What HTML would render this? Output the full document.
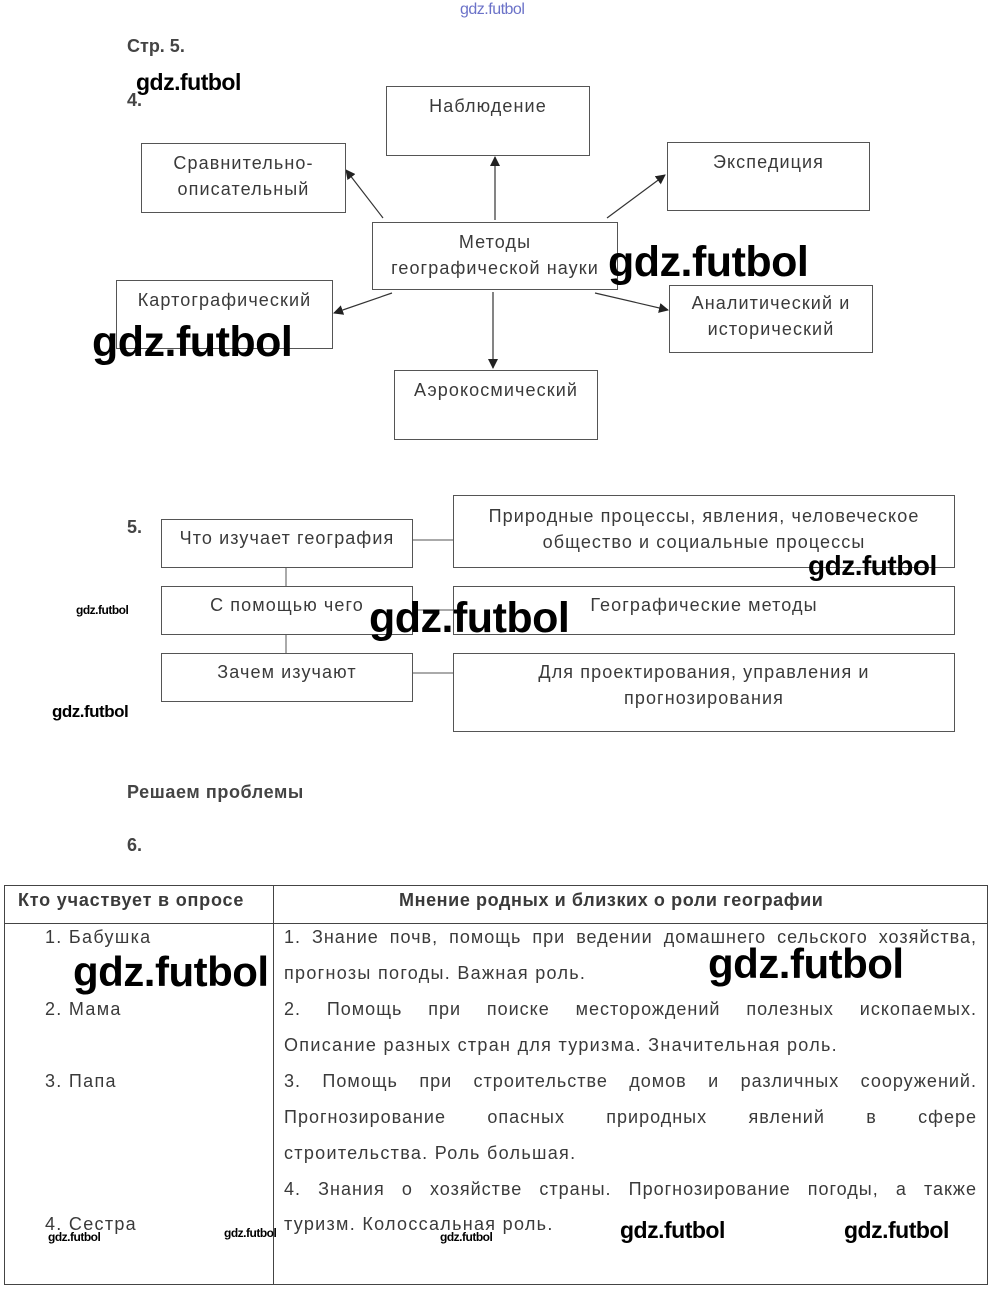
<!DOCTYPE html>
<html><head><meta charset="utf-8"><style>
body{margin:0;width:1000px;height:1296px;background:#fff;position:relative;overflow:hidden;font-family:"Liberation Sans","DejaVu Sans",sans-serif;color:#3a3a3a}
.a{position:absolute;white-space:nowrap}
.b{position:absolute;border:1px solid #555;box-sizing:border-box;text-align:center;font-size:18px;line-height:26px;background:#fff;letter-spacing:1.1px;white-space:nowrap}
.w{position:absolute;color:#000;font-family:"Liberation Sans",sans-serif;white-space:nowrap;font-weight:bold;letter-spacing:-0.5px}
.L{position:absolute;font-size:18px;white-space:nowrap;letter-spacing:1.3px}
.J{position:absolute;left:284px;width:693px;font-size:18px;text-align:justify;text-align-last:justify;white-space:nowrap;letter-spacing:1px}
</style></head><body>
<div class="w" style="left:460px;top:1px;font-size:16px;color:#6b72c8;font-weight:normal">gdz.futbol</div>
<div class="a" style="left:127px;top:36px;font-size:18px;font-weight:bold;color:#444">Стр. 5.</div>
<div class="a" style="left:127px;top:90px;font-size:18px;font-weight:bold;color:#444">4.</div>
<div class="w" style="left:136px;top:69px;font-size:23px">gdz.futbol</div>

<svg style="position:absolute;left:0;top:0" width="1000" height="460">
<defs><marker id="m" markerWidth="10" markerHeight="10" refX="9" refY="5" orient="auto" markerUnits="userSpaceOnUse"><path d="M0,0 L10,5 L0,10 z" fill="#222"/></marker></defs>
<g stroke="#333" stroke-width="1.2">
<line x1="495" y1="220" x2="495" y2="157" marker-end="url(#m)"/>
<line x1="383" y1="218" x2="346" y2="170" marker-end="url(#m)"/>
<line x1="607" y1="218" x2="665" y2="175" marker-end="url(#m)"/>
<line x1="392" y1="293" x2="334" y2="313" marker-end="url(#m)"/>
<line x1="595" y1="293" x2="668" y2="310" marker-end="url(#m)"/>
<line x1="493" y1="292" x2="493" y2="368" marker-end="url(#m)"/>
</g></svg>
<div class="b" style="left:386px;top:86px;width:204px;height:70px;padding-top:6px">Наблюдение</div>
<div class="b" style="left:141px;top:143px;width:205px;height:70px;padding-top:6px">Сравнительно-<br>описательный</div>
<div class="b" style="left:667px;top:142px;width:203px;height:69px;padding-top:6px">Экспедиция</div>
<div class="b" style="left:372px;top:222px;width:246px;height:68px;padding-top:6px">Методы<br>географической науки</div>
<div class="b" style="left:116px;top:280px;width:217px;height:69px;padding-top:6px">Картографический</div>
<div class="b" style="left:669px;top:285px;width:204px;height:68px;padding-top:4px">Аналитический и<br>исторический</div>
<div class="b" style="left:394px;top:370px;width:204px;height:70px;padding-top:6px">Аэрокосмический</div>
<div class="w" style="left:608px;top:238px;font-size:43px">gdz.futbol</div>
<div class="w" style="left:92px;top:318px;font-size:43px">gdz.futbol</div>

<div class="a" style="left:127px;top:517px;font-size:18px;font-weight:bold;color:#444">5.</div>
<svg style="position:absolute;left:0;top:480px" width="1000" height="260">
<g stroke="#555" stroke-width="1"><line x1="286" y1="87" x2="286" y2="106"/><line x1="286" y1="154" x2="286" y2="173"/>
<line x1="412" y1="60" x2="453" y2="60"/><line x1="412" y1="130" x2="453" y2="130"/><line x1="412" y1="193" x2="453" y2="193"/></g></svg>
<div class="b" style="left:161px;top:519px;width:252px;height:49px;padding-top:5px">Что изучает география</div>
<div class="b" style="left:161px;top:586px;width:252px;height:49px;padding-top:5px">С помощью чего</div>
<div class="b" style="left:161px;top:653px;width:252px;height:49px;padding-top:5px">Зачем изучают</div>
<div class="b" style="left:453px;top:495px;width:502px;height:73px;padding-top:7px">Природные процессы, явления, человеческое<br>общество и социальные процессы</div>
<div class="b" style="left:453px;top:586px;width:502px;height:49px;padding-top:5px">Географические методы</div>
<div class="b" style="left:453px;top:653px;width:502px;height:79px;padding-top:5px">Для проектирования, управления и<br>прогнозирования</div>
<div class="w" style="left:808px;top:550px;font-size:28px">gdz.futbol</div>
<div class="w" style="left:369px;top:594px;font-size:43px">gdz.futbol</div>
<div class="w" style="left:76px;top:603px;font-size:12px">gdz.futbol</div>
<div class="w" style="left:52px;top:702px;font-size:17px">gdz.futbol</div>

<div class="a" style="left:127px;top:782px;font-size:18px;font-weight:bold;color:#444;letter-spacing:0.6px">Решаем проблемы</div>
<div class="a" style="left:127px;top:835px;font-size:18px;font-weight:bold;color:#444">6.</div>

<div style="position:absolute;left:4px;top:885px;width:984px;height:400px;border:1px solid #444;box-sizing:border-box"></div>
<div style="position:absolute;left:273px;top:885px;width:1px;height:400px;background:#444"></div>
<div style="position:absolute;left:4px;top:923px;width:984px;height:1px;background:#444"></div>
<div class="a" style="left:18px;top:890px;font-size:18px;font-weight:bold;letter-spacing:0.8px">Кто участвует в опросе</div>
<div class="a" style="left:399px;top:890px;font-size:18px;font-weight:bold;letter-spacing:0.6px">Мнение родных и близких о роли географии</div>
<div class="L" style="left:45px;top:927px">1. Бабушка</div>
<div class="L" style="left:45px;top:999px">2. Мама</div>
<div class="L" style="left:45px;top:1071px">3. Папа</div>
<div class="L" style="left:45px;top:1214px">4. Сестра</div>
<div class="J" style="top:927px">1. Знание почв, помощь при ведении домашнего сельского хозяйства,</div>
<div class="L" style="left:284px;top:963px">прогнозы погоды. Важная роль.</div>
<div class="J" style="top:999px">2. Помощь при поиске месторождений полезных ископаемых.</div>
<div class="L" style="left:284px;top:1035px">Описание разных стран для туризма. Значительная роль.</div>
<div class="J" style="top:1071px">3. Помощь при строительстве домов и различных сооружений.</div>
<div class="J" style="top:1107px">Прогнозирование опасных природных явлений в сфере</div>
<div class="L" style="left:284px;top:1143px">строительства. Роль большая.</div>
<div class="J" style="top:1179px">4. Знания о хозяйстве страны. Прогнозирование погоды, а также</div>
<div class="L" style="left:284px;top:1214px">туризм. Колоссальная роль.</div>
<div class="w" style="left:73px;top:948px;font-size:42px">gdz.futbol</div>
<div class="w" style="left:708px;top:940px;font-size:42px">gdz.futbol</div>
<div class="w" style="left:48px;top:1230px;font-size:12px">gdz.futbol</div>
<div class="w" style="left:224px;top:1226px;font-size:12px">gdz.futbol</div>
<div class="w" style="left:440px;top:1230px;font-size:12px">gdz.futbol</div>
<div class="w" style="left:620px;top:1217px;font-size:23px">gdz.futbol</div>
<div class="w" style="left:844px;top:1217px;font-size:23px">gdz.futbol</div>
</body></html>
